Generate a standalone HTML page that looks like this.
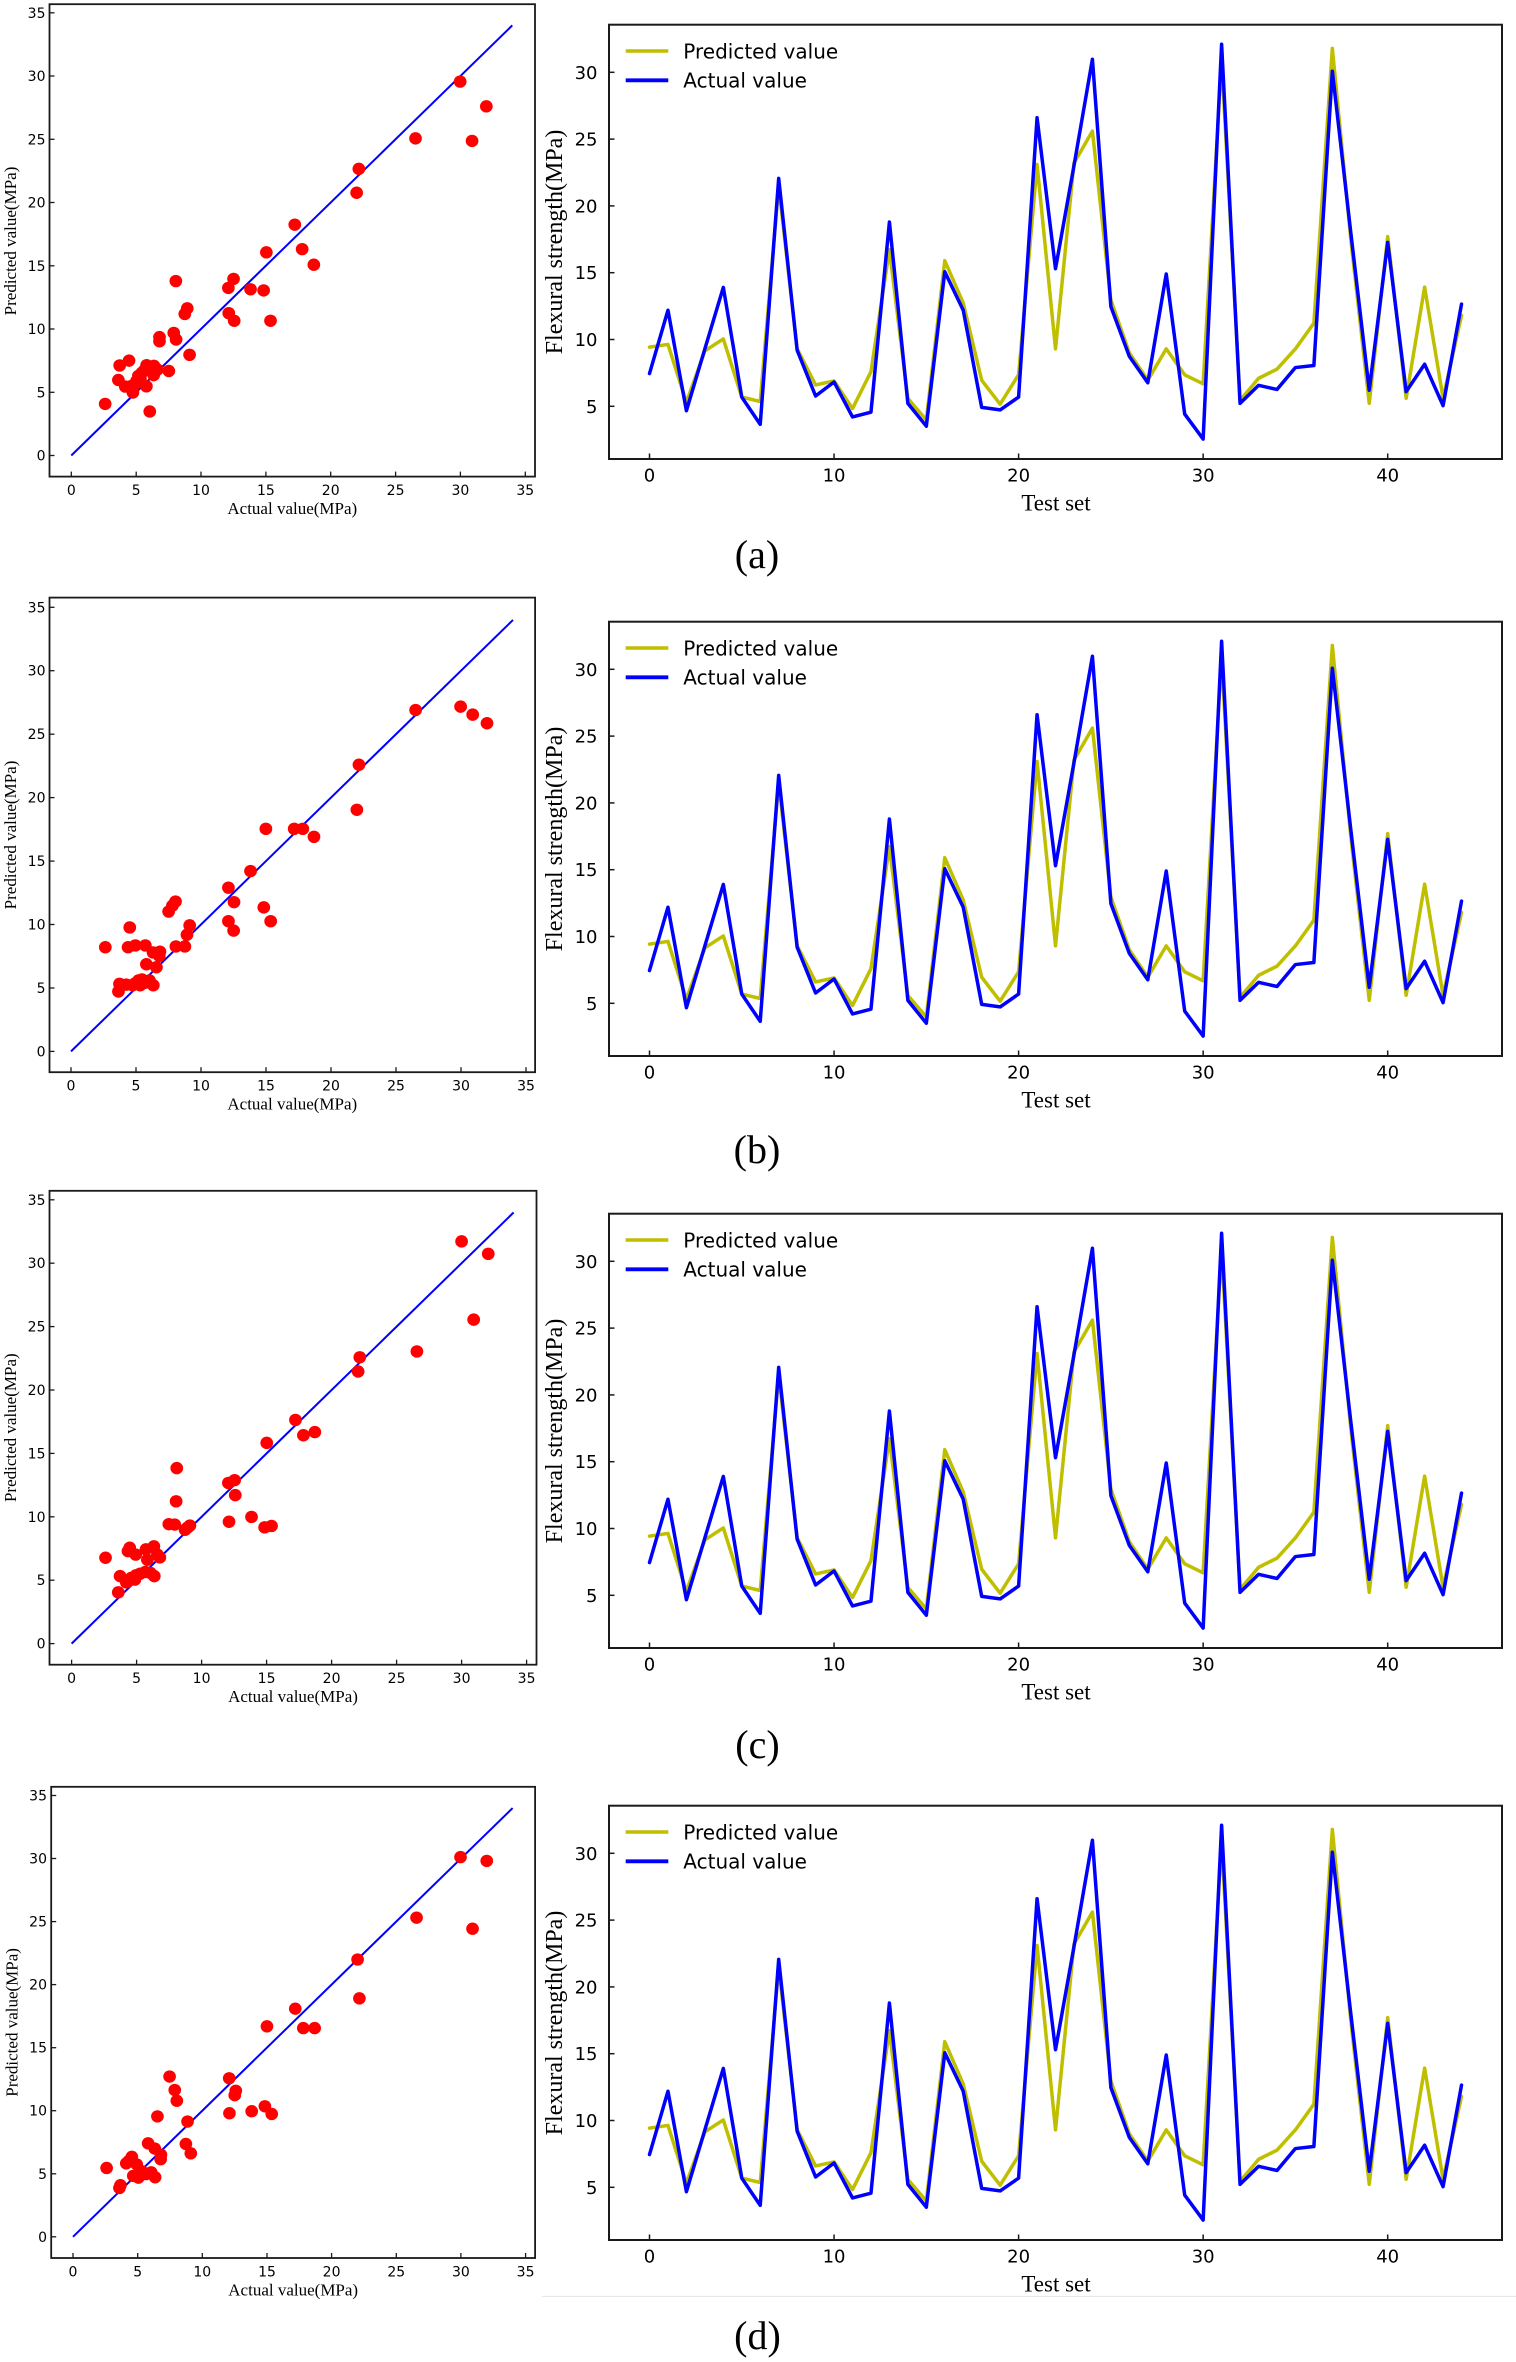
<!DOCTYPE html>
<html>
<head>
<meta charset="utf-8">
<style>
html,body{margin:0;padding:0;background:#fff;}
svg{display:block;}
.tk{font-family:"DejaVu Sans","Liberation Sans",sans-serif;fill:#000;}
.sr{font-family:"Liberation Serif","DejaVu Serif",serif;fill:#000;}
</style>
</head>
<body>
<svg width="1516" height="2362" viewBox="0 0 1516 2362" xmlns="http://www.w3.org/2000/svg">
<rect width="1516" height="2362" fill="#fff"/>

<!-- ================= ROW A SCATTER ================= -->
<g>
<g transform="translate(71.3,455.5) scale(12.97,-12.65)">
<line x1="0" y1="0" x2="34" y2="34" stroke="#0000ff" stroke-width="2" vector-effect="non-scaling-stroke"/>
<g fill="#ff0000">
<circle cx="29.98" cy="29.56" r="0.49"/><circle cx="32.0" cy="27.6" r="0.49"/><circle cx="30.9" cy="24.87" r="0.49"/><circle cx="26.54" cy="25.07" r="0.49"/><circle cx="22.17" cy="22.66" r="0.49"/><circle cx="22.0" cy="20.77" r="0.49"/><circle cx="17.23" cy="18.25" r="0.49"/><circle cx="17.8" cy="16.31" r="0.49"/><circle cx="18.7" cy="15.08" r="0.49"/><circle cx="15.04" cy="16.06" r="0.49"/><circle cx="14.83" cy="13.05" r="0.49"/><circle cx="15.36" cy="10.65" r="0.49"/><circle cx="13.82" cy="13.14" r="0.49"/><circle cx="12.51" cy="13.96" r="0.49"/><circle cx="12.11" cy="13.25" r="0.49"/><circle cx="12.14" cy="11.25" r="0.49"/><circle cx="12.56" cy="10.65" r="0.49"/><circle cx="8.06" cy="13.79" r="0.49"/><circle cx="8.94" cy="11.63" r="0.49"/><circle cx="8.75" cy="11.19" r="0.49"/><circle cx="7.9" cy="9.69" r="0.49"/><circle cx="8.08" cy="9.17" r="0.49"/><circle cx="9.12" cy="7.96" r="0.49"/><circle cx="6.8" cy="9.36" r="0.49"/><circle cx="6.8" cy="9.03" r="0.49"/><circle cx="7.52" cy="6.68" r="0.49"/><circle cx="3.73" cy="7.12" r="0.49"/><circle cx="4.45" cy="7.5" r="0.49"/><circle cx="3.63" cy="5.97" r="0.49"/><circle cx="4.16" cy="5.45" r="0.49"/><circle cx="2.61" cy="4.08" r="0.49"/><circle cx="6.05" cy="3.48" r="0.49"/><circle cx="5.79" cy="5.47" r="0.49"/><circle cx="4.75" cy="4.98" r="0.49"/><circle cx="4.64" cy="5.5" r="0.49"/><circle cx="5.04" cy="5.91" r="0.49"/><circle cx="5.17" cy="6.29" r="0.49"/><circle cx="5.44" cy="6.54" r="0.49"/><circle cx="5.81" cy="7.14" r="0.49"/><circle cx="6.37" cy="7.09" r="0.49"/><circle cx="6.35" cy="6.35" r="0.49"/><circle cx="6.64" cy="6.79" r="0.49"/><circle cx="5.63" cy="6.73" r="0.49"/><circle cx="4.9" cy="5.64" r="0.49"/><circle cx="5.33" cy="6.05" r="0.49"/>
</g>
</g>
<rect x="49.5" y="4.2" width="485.5" height="472.4" fill="none" stroke="#1a1a1a" stroke-width="1.8"/>
<g stroke="#1a1a1a" stroke-width="1.3">
<line x1="71.3" y1="476.6" x2="71.3" y2="471.6"/><line x1="136.2" y1="476.6" x2="136.2" y2="471.6"/><line x1="201" y1="476.6" x2="201" y2="471.6"/><line x1="265.9" y1="476.6" x2="265.9" y2="471.6"/><line x1="330.7" y1="476.6" x2="330.7" y2="471.6"/><line x1="395.6" y1="476.6" x2="395.6" y2="471.6"/><line x1="460.4" y1="476.6" x2="460.4" y2="471.6"/><line x1="525.3" y1="476.6" x2="525.3" y2="471.6"/>
<line x1="49.5" y1="455.5" x2="54.5" y2="455.5"/><line x1="49.5" y1="392.3" x2="54.5" y2="392.3"/><line x1="49.5" y1="329" x2="54.5" y2="329"/><line x1="49.5" y1="265.8" x2="54.5" y2="265.8"/><line x1="49.5" y1="202.5" x2="54.5" y2="202.5"/><line x1="49.5" y1="139.3" x2="54.5" y2="139.3"/><line x1="49.5" y1="76" x2="54.5" y2="76"/><line x1="49.5" y1="12.8" x2="54.5" y2="12.8"/>
</g>
<g class="tk" font-size="14" text-anchor="middle">
<text x="71.3" y="495">0</text><text x="136.2" y="495">5</text><text x="201" y="495">10</text><text x="265.9" y="495">15</text><text x="330.7" y="495">20</text><text x="395.6" y="495">25</text><text x="460.4" y="495">30</text><text x="525.3" y="495">35</text>
</g>
<g class="tk" font-size="14" text-anchor="end">
<text x="45.5" y="460.5">0</text><text x="45.5" y="397.3">5</text><text x="45.5" y="334">10</text><text x="45.5" y="270.8">15</text><text x="45.5" y="207.5">20</text><text x="45.5" y="144.3">25</text><text x="45.5" y="81">30</text><text x="45.5" y="17.8">35</text>
</g>
<text class="sr" font-size="17" x="292.3" y="514" text-anchor="middle">Actual value(MPa)</text>
<text class="sr" font-size="17" text-anchor="middle" transform="translate(15.8,241) rotate(-90)">Predicted value(MPa)</text>
</g>

<!-- ================= ROW B SCATTER ================= -->
<g>
<g transform="translate(71,1051.4) scale(13.0,-12.69)">
<line x1="0" y1="0" x2="34" y2="34" stroke="#0000ff" stroke-width="2" vector-effect="non-scaling-stroke"/>
<g fill="#ff0000">
<circle cx="29.97" cy="27.17" r="0.49"/><circle cx="30.9" cy="26.54" r="0.49"/><circle cx="32.0" cy="25.86" r="0.49"/><circle cx="26.51" cy="26.9" r="0.49"/><circle cx="22.15" cy="22.59" r="0.49"/><circle cx="21.99" cy="19.04" r="0.49"/><circle cx="17.17" cy="17.54" r="0.49"/><circle cx="17.83" cy="17.54" r="0.49"/><circle cx="18.69" cy="16.91" r="0.49"/><circle cx="14.99" cy="17.54" r="0.49"/><circle cx="14.83" cy="11.35" r="0.49"/><circle cx="15.36" cy="10.26" r="0.49"/><circle cx="13.81" cy="14.21" r="0.49"/><circle cx="12.11" cy="12.9" r="0.49"/><circle cx="12.54" cy="11.76" r="0.49"/><circle cx="12.11" cy="10.26" r="0.49"/><circle cx="12.51" cy="9.52" r="0.49"/><circle cx="8.04" cy="11.81" r="0.49"/><circle cx="7.8" cy="11.48" r="0.49"/><circle cx="7.51" cy="11.02" r="0.49"/><circle cx="9.13" cy="9.93" r="0.49"/><circle cx="8.92" cy="9.19" r="0.49"/><circle cx="8.76" cy="8.27" r="0.49"/><circle cx="8.07" cy="8.27" r="0.49"/><circle cx="6.84" cy="7.86" r="0.49"/><circle cx="6.31" cy="7.8" r="0.49"/><circle cx="6.57" cy="6.63" r="0.49"/><circle cx="5.8" cy="6.87" r="0.49"/><circle cx="6.79" cy="7.53" r="0.49"/><circle cx="4.52" cy="9.77" r="0.49"/><circle cx="2.64" cy="8.21" r="0.49"/><circle cx="4.39" cy="8.21" r="0.49"/><circle cx="4.95" cy="8.35" r="0.49"/><circle cx="5.72" cy="8.35" r="0.49"/><circle cx="3.65" cy="4.72" r="0.49"/><circle cx="3.73" cy="5.32" r="0.49"/><circle cx="4.26" cy="5.26" r="0.49"/><circle cx="4.92" cy="5.35" r="0.49"/><circle cx="5.19" cy="5.59" r="0.49"/><circle cx="5.32" cy="5.21" r="0.49"/><circle cx="6.04" cy="5.59" r="0.49"/><circle cx="6.33" cy="5.21" r="0.49"/><circle cx="5.67" cy="5.4" r="0.49"/><circle cx="5.46" cy="5.67" r="0.49"/><circle cx="4.74" cy="5.21" r="0.49"/>
</g>
</g>
<rect x="49.5" y="597.6" width="485.6" height="474.6" fill="none" stroke="#1a1a1a" stroke-width="1.8"/>
<g stroke="#1a1a1a" stroke-width="1.3">
<line x1="71" y1="1072.2" x2="71" y2="1067.2"/><line x1="136" y1="1072.2" x2="136" y2="1067.2"/><line x1="201" y1="1072.2" x2="201" y2="1067.2"/><line x1="266" y1="1072.2" x2="266" y2="1067.2"/><line x1="331" y1="1072.2" x2="331" y2="1067.2"/><line x1="396" y1="1072.2" x2="396" y2="1067.2"/><line x1="461" y1="1072.2" x2="461" y2="1067.2"/><line x1="526" y1="1072.2" x2="526" y2="1067.2"/>
<line x1="49.5" y1="1051.4" x2="54.5" y2="1051.4"/><line x1="49.5" y1="988" x2="54.5" y2="988"/><line x1="49.5" y1="924.5" x2="54.5" y2="924.5"/><line x1="49.5" y1="861.1" x2="54.5" y2="861.1"/><line x1="49.5" y1="797.6" x2="54.5" y2="797.6"/><line x1="49.5" y1="734.2" x2="54.5" y2="734.2"/><line x1="49.5" y1="670.7" x2="54.5" y2="670.7"/><line x1="49.5" y1="607.3" x2="54.5" y2="607.3"/>
</g>
<g class="tk" font-size="14" text-anchor="middle">
<text x="71" y="1090.6">0</text><text x="136" y="1090.6">5</text><text x="201" y="1090.6">10</text><text x="266" y="1090.6">15</text><text x="331" y="1090.6">20</text><text x="396" y="1090.6">25</text><text x="461" y="1090.6">30</text><text x="526" y="1090.6">35</text>
</g>
<g class="tk" font-size="14" text-anchor="end">
<text x="45.5" y="1056.4">0</text><text x="45.5" y="993">5</text><text x="45.5" y="929.5">10</text><text x="45.5" y="866.1">15</text><text x="45.5" y="802.6">20</text><text x="45.5" y="739.2">25</text><text x="45.5" y="675.7">30</text><text x="45.5" y="612.3">35</text>
</g>
<text class="sr" font-size="17" x="292.3" y="1109.6" text-anchor="middle">Actual value(MPa)</text>
<text class="sr" font-size="17" text-anchor="middle" transform="translate(15.8,835) rotate(-90)">Predicted value(MPa)</text>
</g>

<!-- ================= ROW C SCATTER ================= -->
<g>
<g transform="translate(71.6,1643.6) scale(13.0,-12.68)">
<line x1="0" y1="0" x2="34" y2="34" stroke="#0000ff" stroke-width="2" vector-effect="non-scaling-stroke"/>
<g fill="#ff0000">
<circle cx="30.0" cy="31.72" r="0.49"/><circle cx="32.05" cy="30.74" r="0.49"/><circle cx="30.93" cy="25.55" r="0.49"/><circle cx="26.56" cy="23.04" r="0.49"/><circle cx="22.17" cy="22.58" r="0.49"/><circle cx="22.04" cy="21.46" r="0.49"/><circle cx="17.22" cy="17.64" r="0.49"/><circle cx="17.83" cy="16.43" r="0.49"/><circle cx="18.71" cy="16.68" r="0.49"/><circle cx="15.01" cy="15.83" r="0.49"/><circle cx="14.85" cy="9.17" r="0.49"/><circle cx="15.38" cy="9.28" r="0.49"/><circle cx="13.84" cy="9.99" r="0.49"/><circle cx="12.06" cy="12.67" r="0.49"/><circle cx="12.54" cy="12.89" r="0.49"/><circle cx="12.59" cy="11.71" r="0.49"/><circle cx="12.11" cy="9.61" r="0.49"/><circle cx="8.09" cy="13.84" r="0.49"/><circle cx="8.04" cy="11.22" r="0.49"/><circle cx="7.48" cy="9.42" r="0.49"/><circle cx="7.93" cy="9.39" r="0.49"/><circle cx="8.73" cy="8.98" r="0.49"/><circle cx="8.92" cy="9.15" r="0.49"/><circle cx="9.1" cy="9.31" r="0.49"/><circle cx="2.61" cy="6.77" r="0.49"/><circle cx="4.47" cy="7.56" r="0.49"/><circle cx="4.34" cy="7.29" r="0.49"/><circle cx="4.93" cy="7.02" r="0.49"/><circle cx="5.72" cy="7.43" r="0.49"/><circle cx="6.33" cy="7.67" r="0.49"/><circle cx="5.83" cy="6.61" r="0.49"/><circle cx="6.6" cy="7.02" r="0.49"/><circle cx="6.79" cy="6.8" r="0.49"/><circle cx="3.73" cy="5.32" r="0.49"/><circle cx="3.59" cy="4.04" r="0.49"/><circle cx="4.21" cy="4.83" r="0.49"/><circle cx="4.6" cy="5.19" r="0.49"/><circle cx="4.95" cy="5.38" r="0.49"/><circle cx="5.27" cy="5.51" r="0.49"/><circle cx="5.67" cy="5.65" r="0.49"/><circle cx="6.07" cy="5.57" r="0.49"/><circle cx="6.36" cy="5.32" r="0.49"/><circle cx="4.87" cy="5.05" r="0.49"/>
</g>
</g>
<rect x="49.5" y="1190.8" width="487" height="473.9" fill="none" stroke="#1a1a1a" stroke-width="1.8"/>
<g stroke="#1a1a1a" stroke-width="1.3">
<line x1="71.6" y1="1664.7" x2="71.6" y2="1659.7"/><line x1="136.6" y1="1664.7" x2="136.6" y2="1659.7"/><line x1="201.6" y1="1664.7" x2="201.6" y2="1659.7"/><line x1="266.6" y1="1664.7" x2="266.6" y2="1659.7"/><line x1="331.6" y1="1664.7" x2="331.6" y2="1659.7"/><line x1="396.6" y1="1664.7" x2="396.6" y2="1659.7"/><line x1="461.6" y1="1664.7" x2="461.6" y2="1659.7"/><line x1="526.6" y1="1664.7" x2="526.6" y2="1659.7"/>
<line x1="49.5" y1="1643.6" x2="54.5" y2="1643.6"/><line x1="49.5" y1="1580.2" x2="54.5" y2="1580.2"/><line x1="49.5" y1="1516.8" x2="54.5" y2="1516.8"/><line x1="49.5" y1="1453.4" x2="54.5" y2="1453.4"/><line x1="49.5" y1="1390" x2="54.5" y2="1390"/><line x1="49.5" y1="1326.6" x2="54.5" y2="1326.6"/><line x1="49.5" y1="1263.2" x2="54.5" y2="1263.2"/><line x1="49.5" y1="1199.8" x2="54.5" y2="1199.8"/>
</g>
<g class="tk" font-size="14" text-anchor="middle">
<text x="71.6" y="1683.1">0</text><text x="136.6" y="1683.1">5</text><text x="201.6" y="1683.1">10</text><text x="266.6" y="1683.1">15</text><text x="331.6" y="1683.1">20</text><text x="396.6" y="1683.1">25</text><text x="461.6" y="1683.1">30</text><text x="526.6" y="1683.1">35</text>
</g>
<g class="tk" font-size="14" text-anchor="end">
<text x="45.5" y="1648.6">0</text><text x="45.5" y="1585.2">5</text><text x="45.5" y="1521.8">10</text><text x="45.5" y="1458.4">15</text><text x="45.5" y="1395">20</text><text x="45.5" y="1331.6">25</text><text x="45.5" y="1268.2">30</text><text x="45.5" y="1204.8">35</text>
</g>
<text class="sr" font-size="17" x="293" y="1702.1" text-anchor="middle">Actual value(MPa)</text>
<text class="sr" font-size="17" text-anchor="middle" transform="translate(15.8,1427.7) rotate(-90)">Predicted value(MPa)</text>
</g>

<!-- ================= ROW D SCATTER ================= -->
<g>
<g transform="translate(73,2236.8) scale(12.93,-12.61)">
<line x1="0" y1="0" x2="34" y2="34" stroke="#0000ff" stroke-width="2" vector-effect="non-scaling-stroke"/>
<g fill="#ff0000">
<circle cx="29.97" cy="30.11" r="0.49"/><circle cx="32.0" cy="29.81" r="0.49"/><circle cx="30.9" cy="24.43" r="0.49"/><circle cx="26.57" cy="25.31" r="0.49"/><circle cx="22.01" cy="21.99" r="0.49"/><circle cx="22.15" cy="18.91" r="0.49"/><circle cx="17.19" cy="18.09" r="0.49"/><circle cx="17.81" cy="16.55" r="0.49"/><circle cx="18.69" cy="16.55" r="0.49"/><circle cx="15.0" cy="16.69" r="0.49"/><circle cx="14.84" cy="10.35" r="0.49"/><circle cx="15.37" cy="9.74" r="0.49"/><circle cx="13.82" cy="9.96" r="0.49"/><circle cx="12.08" cy="12.57" r="0.49"/><circle cx="12.59" cy="11.58" r="0.49"/><circle cx="12.51" cy="11.23" r="0.49"/><circle cx="12.1" cy="9.8" r="0.49"/><circle cx="7.47" cy="12.71" r="0.49"/><circle cx="7.87" cy="11.64" r="0.49"/><circle cx="8.03" cy="10.79" r="0.49"/><circle cx="8.86" cy="9.14" r="0.49"/><circle cx="8.73" cy="7.36" r="0.49"/><circle cx="9.11" cy="6.62" r="0.49"/><circle cx="6.53" cy="9.55" r="0.49"/><circle cx="5.81" cy="7.41" r="0.49"/><circle cx="6.32" cy="7.0" r="0.49"/><circle cx="6.8" cy="6.51" r="0.49"/><circle cx="6.78" cy="6.15" r="0.49"/><circle cx="2.6" cy="5.46" r="0.49"/><circle cx="4.55" cy="6.34" r="0.49"/><circle cx="4.31" cy="6.01" r="0.49"/><circle cx="4.12" cy="5.82" r="0.49"/><circle cx="4.93" cy="5.74" r="0.49"/><circle cx="3.67" cy="4.09" r="0.49"/><circle cx="3.59" cy="3.87" r="0.49"/><circle cx="4.66" cy="4.83" r="0.49"/><circle cx="5.06" cy="4.69" r="0.49"/><circle cx="5.65" cy="4.97" r="0.49"/><circle cx="6.05" cy="5.11" r="0.49"/><circle cx="6.35" cy="4.72" r="0.49"/><circle cx="5.33" cy="5.19" r="0.49"/>
</g>
</g>
<rect x="51.2" y="1786.8" width="483.9" height="471.2" fill="none" stroke="#1a1a1a" stroke-width="1.8"/>
<g stroke="#1a1a1a" stroke-width="1.3">
<line x1="73" y1="2258" x2="73" y2="2253"/><line x1="137.7" y1="2258" x2="137.7" y2="2253"/><line x1="202.3" y1="2258" x2="202.3" y2="2253"/><line x1="267" y1="2258" x2="267" y2="2253"/><line x1="331.6" y1="2258" x2="331.6" y2="2253"/><line x1="396.3" y1="2258" x2="396.3" y2="2253"/><line x1="460.9" y1="2258" x2="460.9" y2="2253"/><line x1="525.6" y1="2258" x2="525.6" y2="2253"/>
<line x1="51.2" y1="2236.8" x2="56.2" y2="2236.8"/><line x1="51.2" y1="2173.8" x2="56.2" y2="2173.8"/><line x1="51.2" y1="2110.7" x2="56.2" y2="2110.7"/><line x1="51.2" y1="2047.7" x2="56.2" y2="2047.7"/><line x1="51.2" y1="1984.6" x2="56.2" y2="1984.6"/><line x1="51.2" y1="1921.6" x2="56.2" y2="1921.6"/><line x1="51.2" y1="1858.5" x2="56.2" y2="1858.5"/><line x1="51.2" y1="1795.5" x2="56.2" y2="1795.5"/>
</g>
<g class="tk" font-size="14" text-anchor="middle">
<text x="73" y="2276.4">0</text><text x="137.7" y="2276.4">5</text><text x="202.3" y="2276.4">10</text><text x="267" y="2276.4">15</text><text x="331.6" y="2276.4">20</text><text x="396.3" y="2276.4">25</text><text x="460.9" y="2276.4">30</text><text x="525.6" y="2276.4">35</text>
</g>
<g class="tk" font-size="14" text-anchor="end">
<text x="47" y="2241.8">0</text><text x="47" y="2178.8">5</text><text x="47" y="2115.7">10</text><text x="47" y="2052.7">15</text><text x="47" y="1989.6">20</text><text x="47" y="1926.6">25</text><text x="47" y="1863.5">30</text><text x="47" y="1800.5">35</text>
</g>
<text class="sr" font-size="17" x="293.2" y="2295.4" text-anchor="middle">Actual value(MPa)</text>
<text class="sr" font-size="17" text-anchor="middle" transform="translate(17.3,2022.4) rotate(-90)">Predicted value(MPa)</text>
</g>

<!-- ================= RIGHT PANELS ================= -->
<!-- Row A -->
<g transform="translate(0,0)">
<g transform="translate(649.5,473.1) scale(18.455,-13.36)" fill="none" stroke-linejoin="round" stroke-linecap="round">
<polyline stroke="#bfbf00" stroke-width="3.5" vector-effect="non-scaling-stroke" points="0,9.43 1,9.63 2,5.3 3,9.15 4,10.04 5,5.69 6,5.36 7,21.5 8,9.3 9,6.6 10,6.9 11,4.83 12,7.59 13,16.73 14,5.58 15,3.98 16,15.9 17,12.73 18,6.95 19,5.16 20,7.36 21,23.1 22,9.3 23,23.2 24,25.6 25,12.95 26,9.0 27,6.95 28,9.3 29,7.36 30,6.68 31,31 32,5.44 33,7.09 34,7.78 35,9.3 36,11.22 37,31.79 38,17.5 39,5.22 40,17.7 41,5.6 42,13.92 43,5.6 44,11.8"/>
<polyline stroke="#0000ff" stroke-width="3.5" vector-effect="non-scaling-stroke" points="0,7.45 1,12.19 2,4.67 3,9.3 4,13.9 5,5.69 6,3.65 7,22.06 8,9.2 9,5.77 10,6.82 11,4.2 12,4.56 13,18.79 14,5.22 15,3.51 16,15.07 17,12.19 18,4.92 19,4.73 20,5.69 21,26.6 22,15.3 23,23 24,30.98 25,12.46 26,8.74 27,6.76 28,14.9 29,4.42 30,2.55 31,32.1 32,5.22 33,6.57 34,6.26 35,7.9 36,8.05 37,30.08 38,18 39,6.2 40,17.27 41,6.1 42,8.15 43,5.05 44,12.65"/>
</g>
<rect x="609" y="24.7" width="893" height="434.3" fill="none" stroke="#1a1a1a" stroke-width="2"/>
<g stroke="#1a1a1a" stroke-width="1.5">
<line x1="649.5" y1="459" x2="649.5" y2="453.5"/><line x1="834.05" y1="459" x2="834.05" y2="453.5"/><line x1="1018.6" y1="459" x2="1018.6" y2="453.5"/><line x1="1203.15" y1="459" x2="1203.15" y2="453.5"/><line x1="1387.7" y1="459" x2="1387.7" y2="453.5"/>
<line x1="609" y1="406.3" x2="614.5" y2="406.3"/><line x1="609" y1="339.5" x2="614.5" y2="339.5"/><line x1="609" y1="272.7" x2="614.5" y2="272.7"/><line x1="609" y1="205.9" x2="614.5" y2="205.9"/><line x1="609" y1="139.1" x2="614.5" y2="139.1"/><line x1="609" y1="72.3" x2="614.5" y2="72.3"/>
</g>
<g class="tk" font-size="18" text-anchor="middle">
<text x="649.5" y="481.7">0</text><text x="834.05" y="481.7">10</text><text x="1018.6" y="481.7">20</text><text x="1203.15" y="481.7">30</text><text x="1387.7" y="481.7">40</text>
</g>
<g class="tk" font-size="18" text-anchor="end">
<text x="597.5" y="412.8">5</text><text x="597.5" y="346">10</text><text x="597.5" y="279.2">15</text><text x="597.5" y="212.4">20</text><text x="597.5" y="145.6">25</text><text x="597.5" y="78.8">30</text>
</g>
<line x1="625.7" y1="51" x2="668.3" y2="51" stroke="#bfbf00" stroke-width="3.5"/>
<line x1="625.7" y1="80.3" x2="668.3" y2="80.3" stroke="#0000ff" stroke-width="3.8"/>
<text class="tk" font-size="20" x="683.3" y="58.3">Predicted value</text>
<text class="tk" font-size="20" x="683.3" y="87.7">Actual value</text>
<text class="sr" font-size="23" x="1056" y="510.7" text-anchor="middle">Test set</text>
<text class="sr" font-size="24" text-anchor="middle" transform="translate(562,242) rotate(-90)">Flexural strength(MPa)</text>
<text class="sr" font-size="40" x="757" y="568" text-anchor="middle">(a)</text>
</g>

<!-- Row B -->
<g transform="translate(0,597)">
<g transform="translate(649.5,473.1) scale(18.455,-13.36)" fill="none" stroke-linejoin="round" stroke-linecap="round">
<polyline stroke="#bfbf00" stroke-width="3.5" vector-effect="non-scaling-stroke" points="0,9.43 1,9.63 2,5.3 3,9.15 4,10.04 5,5.69 6,5.36 7,21.5 8,9.3 9,6.6 10,6.9 11,4.83 12,7.59 13,16.73 14,5.58 15,3.98 16,15.9 17,12.73 18,6.95 19,5.16 20,7.36 21,23.1 22,9.3 23,23.2 24,25.6 25,12.95 26,9.0 27,6.95 28,9.3 29,7.36 30,6.68 31,31 32,5.44 33,7.09 34,7.78 35,9.3 36,11.22 37,31.79 38,17.5 39,5.22 40,17.7 41,5.6 42,13.92 43,5.6 44,11.8"/>
<polyline stroke="#0000ff" stroke-width="3.5" vector-effect="non-scaling-stroke" points="0,7.45 1,12.19 2,4.67 3,9.3 4,13.9 5,5.69 6,3.65 7,22.06 8,9.2 9,5.77 10,6.82 11,4.2 12,4.56 13,18.79 14,5.22 15,3.51 16,15.07 17,12.19 18,4.92 19,4.73 20,5.69 21,26.6 22,15.3 23,23 24,30.98 25,12.46 26,8.74 27,6.76 28,14.9 29,4.42 30,2.55 31,32.1 32,5.22 33,6.57 34,6.26 35,7.9 36,8.05 37,30.08 38,18 39,6.2 40,17.27 41,6.1 42,8.15 43,5.05 44,12.65"/>
</g>
<rect x="609" y="24.7" width="893" height="434.3" fill="none" stroke="#1a1a1a" stroke-width="2"/>
<g stroke="#1a1a1a" stroke-width="1.5">
<line x1="649.5" y1="459" x2="649.5" y2="453.5"/><line x1="834.05" y1="459" x2="834.05" y2="453.5"/><line x1="1018.6" y1="459" x2="1018.6" y2="453.5"/><line x1="1203.15" y1="459" x2="1203.15" y2="453.5"/><line x1="1387.7" y1="459" x2="1387.7" y2="453.5"/>
<line x1="609" y1="406.3" x2="614.5" y2="406.3"/><line x1="609" y1="339.5" x2="614.5" y2="339.5"/><line x1="609" y1="272.7" x2="614.5" y2="272.7"/><line x1="609" y1="205.9" x2="614.5" y2="205.9"/><line x1="609" y1="139.1" x2="614.5" y2="139.1"/><line x1="609" y1="72.3" x2="614.5" y2="72.3"/>
</g>
<g class="tk" font-size="18" text-anchor="middle">
<text x="649.5" y="481.7">0</text><text x="834.05" y="481.7">10</text><text x="1018.6" y="481.7">20</text><text x="1203.15" y="481.7">30</text><text x="1387.7" y="481.7">40</text>
</g>
<g class="tk" font-size="18" text-anchor="end">
<text x="597.5" y="412.8">5</text><text x="597.5" y="346">10</text><text x="597.5" y="279.2">15</text><text x="597.5" y="212.4">20</text><text x="597.5" y="145.6">25</text><text x="597.5" y="78.8">30</text>
</g>
<line x1="625.7" y1="51" x2="668.3" y2="51" stroke="#bfbf00" stroke-width="3.5"/>
<line x1="625.7" y1="80.3" x2="668.3" y2="80.3" stroke="#0000ff" stroke-width="3.8"/>
<text class="tk" font-size="20" x="683.3" y="58.3">Predicted value</text>
<text class="tk" font-size="20" x="683.3" y="87.7">Actual value</text>
<text class="sr" font-size="23" x="1056" y="510.7" text-anchor="middle">Test set</text>
<text class="sr" font-size="24" text-anchor="middle" transform="translate(562,242) rotate(-90)">Flexural strength(MPa)</text>
<text class="sr" font-size="40" x="757" y="566" text-anchor="middle">(b)</text>
</g>

<!-- Row C -->
<g transform="translate(0,1189)">
<g transform="translate(649.5,473.1) scale(18.455,-13.36)" fill="none" stroke-linejoin="round" stroke-linecap="round">
<polyline stroke="#bfbf00" stroke-width="3.5" vector-effect="non-scaling-stroke" points="0,9.43 1,9.63 2,5.3 3,9.15 4,10.04 5,5.69 6,5.36 7,21.5 8,9.3 9,6.6 10,6.9 11,4.83 12,7.59 13,16.73 14,5.58 15,3.98 16,15.9 17,12.73 18,6.95 19,5.16 20,7.36 21,23.1 22,9.3 23,23.2 24,25.6 25,12.95 26,9.0 27,6.95 28,9.3 29,7.36 30,6.68 31,31 32,5.44 33,7.09 34,7.78 35,9.3 36,11.22 37,31.79 38,17.5 39,5.22 40,17.7 41,5.6 42,13.92 43,5.6 44,11.8"/>
<polyline stroke="#0000ff" stroke-width="3.5" vector-effect="non-scaling-stroke" points="0,7.45 1,12.19 2,4.67 3,9.3 4,13.9 5,5.69 6,3.65 7,22.06 8,9.2 9,5.77 10,6.82 11,4.2 12,4.56 13,18.79 14,5.22 15,3.51 16,15.07 17,12.19 18,4.92 19,4.73 20,5.69 21,26.6 22,15.3 23,23 24,30.98 25,12.46 26,8.74 27,6.76 28,14.9 29,4.42 30,2.55 31,32.1 32,5.22 33,6.57 34,6.26 35,7.9 36,8.05 37,30.08 38,18 39,6.2 40,17.27 41,6.1 42,8.15 43,5.05 44,12.65"/>
</g>
<rect x="609" y="24.7" width="893" height="434.3" fill="none" stroke="#1a1a1a" stroke-width="2"/>
<g stroke="#1a1a1a" stroke-width="1.5">
<line x1="649.5" y1="459" x2="649.5" y2="453.5"/><line x1="834.05" y1="459" x2="834.05" y2="453.5"/><line x1="1018.6" y1="459" x2="1018.6" y2="453.5"/><line x1="1203.15" y1="459" x2="1203.15" y2="453.5"/><line x1="1387.7" y1="459" x2="1387.7" y2="453.5"/>
<line x1="609" y1="406.3" x2="614.5" y2="406.3"/><line x1="609" y1="339.5" x2="614.5" y2="339.5"/><line x1="609" y1="272.7" x2="614.5" y2="272.7"/><line x1="609" y1="205.9" x2="614.5" y2="205.9"/><line x1="609" y1="139.1" x2="614.5" y2="139.1"/><line x1="609" y1="72.3" x2="614.5" y2="72.3"/>
</g>
<g class="tk" font-size="18" text-anchor="middle">
<text x="649.5" y="481.7">0</text><text x="834.05" y="481.7">10</text><text x="1018.6" y="481.7">20</text><text x="1203.15" y="481.7">30</text><text x="1387.7" y="481.7">40</text>
</g>
<g class="tk" font-size="18" text-anchor="end">
<text x="597.5" y="412.8">5</text><text x="597.5" y="346">10</text><text x="597.5" y="279.2">15</text><text x="597.5" y="212.4">20</text><text x="597.5" y="145.6">25</text><text x="597.5" y="78.8">30</text>
</g>
<line x1="625.7" y1="51" x2="668.3" y2="51" stroke="#bfbf00" stroke-width="3.5"/>
<line x1="625.7" y1="80.3" x2="668.3" y2="80.3" stroke="#0000ff" stroke-width="3.8"/>
<text class="tk" font-size="20" x="683.3" y="58.3">Predicted value</text>
<text class="tk" font-size="20" x="683.3" y="87.7">Actual value</text>
<text class="sr" font-size="23" x="1056" y="510.7" text-anchor="middle">Test set</text>
<text class="sr" font-size="24" text-anchor="middle" transform="translate(562,242) rotate(-90)">Flexural strength(MPa)</text>
<text class="sr" font-size="40" x="757.5" y="569" text-anchor="middle">(c)</text>
</g>

<!-- Row D -->
<g transform="translate(0,1781)">
<g transform="translate(649.5,473.1) scale(18.455,-13.36)" fill="none" stroke-linejoin="round" stroke-linecap="round">
<polyline stroke="#bfbf00" stroke-width="3.5" vector-effect="non-scaling-stroke" points="0,9.43 1,9.63 2,5.3 3,9.15 4,10.04 5,5.69 6,5.36 7,21.5 8,9.3 9,6.6 10,6.9 11,4.83 12,7.59 13,16.73 14,5.58 15,3.98 16,15.9 17,12.73 18,6.95 19,5.16 20,7.36 21,23.1 22,9.3 23,23.2 24,25.6 25,12.95 26,9.0 27,6.95 28,9.3 29,7.36 30,6.68 31,31 32,5.44 33,7.09 34,7.78 35,9.3 36,11.22 37,31.79 38,17.5 39,5.22 40,17.7 41,5.6 42,13.92 43,5.6 44,11.8"/>
<polyline stroke="#0000ff" stroke-width="3.5" vector-effect="non-scaling-stroke" points="0,7.45 1,12.19 2,4.67 3,9.3 4,13.9 5,5.69 6,3.65 7,22.06 8,9.2 9,5.77 10,6.82 11,4.2 12,4.56 13,18.79 14,5.22 15,3.51 16,15.07 17,12.19 18,4.92 19,4.73 20,5.69 21,26.6 22,15.3 23,23 24,30.98 25,12.46 26,8.74 27,6.76 28,14.9 29,4.42 30,2.55 31,32.1 32,5.22 33,6.57 34,6.26 35,7.9 36,8.05 37,30.08 38,18 39,6.2 40,17.27 41,6.1 42,8.15 43,5.05 44,12.65"/>
</g>
<rect x="609" y="24.7" width="893" height="434.3" fill="none" stroke="#1a1a1a" stroke-width="2"/>
<g stroke="#1a1a1a" stroke-width="1.5">
<line x1="649.5" y1="459" x2="649.5" y2="453.5"/><line x1="834.05" y1="459" x2="834.05" y2="453.5"/><line x1="1018.6" y1="459" x2="1018.6" y2="453.5"/><line x1="1203.15" y1="459" x2="1203.15" y2="453.5"/><line x1="1387.7" y1="459" x2="1387.7" y2="453.5"/>
<line x1="609" y1="406.3" x2="614.5" y2="406.3"/><line x1="609" y1="339.5" x2="614.5" y2="339.5"/><line x1="609" y1="272.7" x2="614.5" y2="272.7"/><line x1="609" y1="205.9" x2="614.5" y2="205.9"/><line x1="609" y1="139.1" x2="614.5" y2="139.1"/><line x1="609" y1="72.3" x2="614.5" y2="72.3"/>
</g>
<g class="tk" font-size="18" text-anchor="middle">
<text x="649.5" y="481.7">0</text><text x="834.05" y="481.7">10</text><text x="1018.6" y="481.7">20</text><text x="1203.15" y="481.7">30</text><text x="1387.7" y="481.7">40</text>
</g>
<g class="tk" font-size="18" text-anchor="end">
<text x="597.5" y="412.8">5</text><text x="597.5" y="346">10</text><text x="597.5" y="279.2">15</text><text x="597.5" y="212.4">20</text><text x="597.5" y="145.6">25</text><text x="597.5" y="78.8">30</text>
</g>
<line x1="625.7" y1="51" x2="668.3" y2="51" stroke="#bfbf00" stroke-width="3.5"/>
<line x1="625.7" y1="80.3" x2="668.3" y2="80.3" stroke="#0000ff" stroke-width="3.8"/>
<text class="tk" font-size="20" x="683.3" y="58.3">Predicted value</text>
<text class="tk" font-size="20" x="683.3" y="87.7">Actual value</text>
<text class="sr" font-size="23" x="1056" y="510.7" text-anchor="middle">Test set</text>
<text class="sr" font-size="24" text-anchor="middle" transform="translate(562,242) rotate(-90)">Flexural strength(MPa)</text>
<line x1="542" y1="515.4" x2="1516" y2="515.4" stroke="#e4e4e4" stroke-width="1"/>
<text class="sr" font-size="40" x="757.5" y="568" text-anchor="middle">(d)</text>
</g>

</svg>
</body>
</html>
